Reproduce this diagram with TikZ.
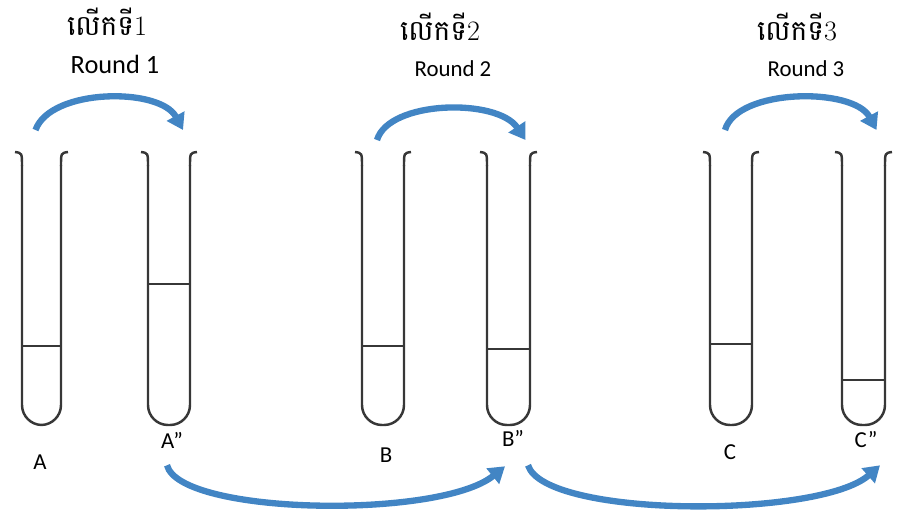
\documentclass[tikz,border=0pt]{standalone}
\usepackage{fontspec}
\newfontfamily\labelfont{Carlito}
\newfontfamily\khmerfont[Script=Khmer]{Battambang}
\usetikzlibrary{arrows.meta}

\definecolor{swoosh}{RGB}{66,133,196}
\definecolor{glass}{RGB}{55,55,55}

\tikzset{
  tubewall/.style={glass, line width=1.4pt},
  roundarrow/.style={swoosh, line width=3.6pt, -{Triangle[length=9pt,width=11pt]}},
  khmertitle/.style={inner sep=1pt, font=\fontsize{16}{18}\selectfont},
  roundtitle/.style={inner sep=1pt, font=\labelfont\fontsize{13}{15}\selectfont},
  tubelabel/.style={font=\labelfont\fontsize{13}{15}\selectfont},
}

% test tube: name, left wall, right wall, liquid level
\newcommand{\testtube}[4]{%
  \draw[tubewall] (#2-7,152) .. controls (#2,153) .. (#2,166);
  \draw[tubewall] (#3+7,152) .. controls (#3,153) .. (#3,166);
  \draw[tubewall, rounded corners=0.4cm] (#2,165) -- (#2,425) -- (#3,425) -- (#3,165);
  \draw[tubewall] (#2,#4) -- (#3,#4);
  \coordinate (#1top) at ({(#2+#3)/2},130);
}

\begin{document}
\begin{tikzpicture}[x=0.02cm, y=-0.02cm]
    \useasboundingbox (0,0) rectangle (897,512);

    % Titles
    \node[khmertitle] (t1) at (107,22) {{\khmerfont លើកទី}1};
    \node[khmertitle] (t2) at (440,27) {{\khmerfont លើកទី}2};
    \node[khmertitle] (t3) at (797,27) {{\khmerfont លើកទី}3};
    \node[roundtitle, font=\labelfont\fontsize{15}{17}\selectfont] (r1) at (115,64) {Round 1};
    \node[roundtitle] (r2) at (453,69) {Round 2};
    \node[roundtitle] (r3) at (806,69) {Round 3};

    % Tubes
    \testtube{A}{22}{61}{346}
    \testtube{A2}{148}{190}{284}
    \testtube{B}{362}{404}{346}
    \testtube{B2}{487}{530}{349}
    \testtube{C}{710}{752}{344}
    \testtube{C2}{842}{885}{380}

    % Labels
    \node[tubelabel] (Alab) at (40,462) {A};
    \node[tubelabel] (A2lab) at (172,440) {A”};
    \node[tubelabel] (Blab) at (386,455) {B};
    \node[tubelabel] (B2lab) at (513,438) {B”};
    \node[tubelabel] (Clab) at (730,452) {C};
    \node[tubelabel] (C2lab) at (866,440) {C”};

    % Arrows over the tubes
    \draw[roundarrow] ([xshift=-0.12cm]Atop) .. controls +(15,-42) and +(-23,-43) .. ([xshift=0.28cm]A2top);
    \draw[roundarrow] ([xshift=-0.12cm,yshift=-0.2cm]Btop) .. controls +(12,-40) and +(-28,-42) .. ([xshift=0.34cm,yshift=-0.2cm]B2top);
    \draw[roundarrow] ([xshift=-0.12cm]Ctop) .. controls +(12,-42) and +(-23,-43) .. ([xshift=0.26cm]C2top);

    % Arrows under the tubes
    \draw[roundarrow] ([xshift=-0.1cm,yshift=-0.22cm]A2lab.south) .. controls +(13,50) and +(-65,53) .. ([xshift=-0.16cm,yshift=-0.28cm]B2lab.south);
    \draw[roundarrow] ([xshift=0.3cm,yshift=-0.26cm]B2lab.south) .. controls +(17,53) and +(-60,53) .. ([xshift=0.28cm,yshift=-0.22cm]C2lab.south);
\end{tikzpicture}
\end{document}
